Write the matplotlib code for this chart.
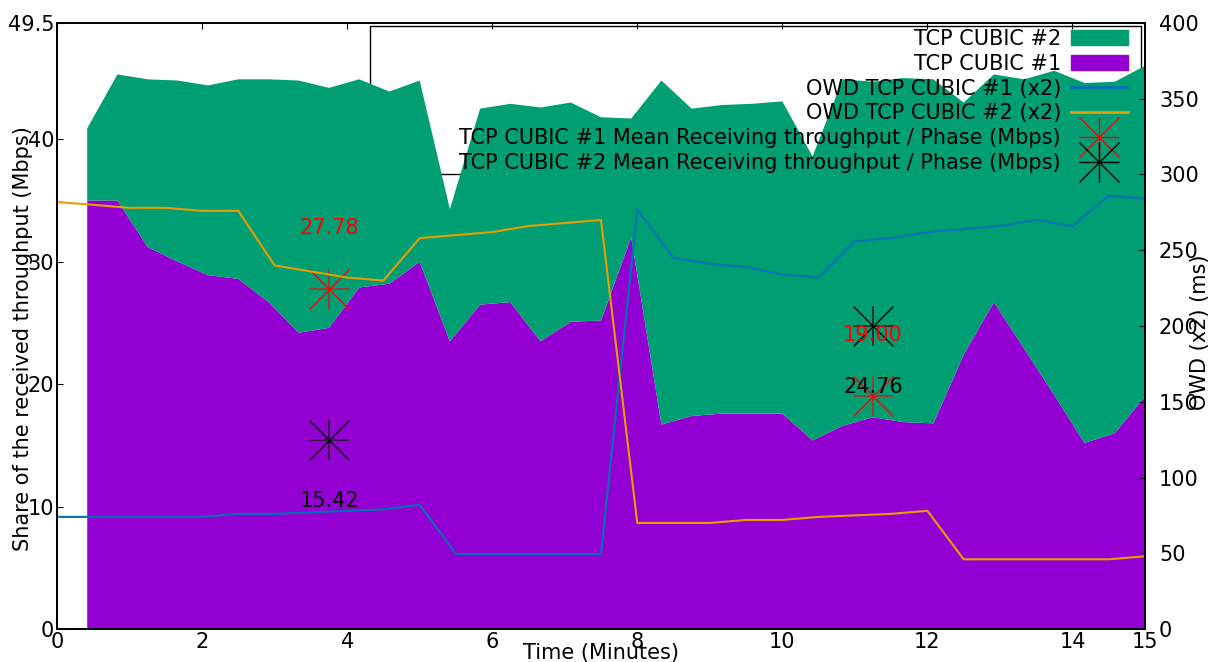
import numpy as np
import matplotlib
matplotlib.use("Agg")
import matplotlib.pyplot as plt
from matplotlib.lines import Line2D
from matplotlib.patches import Patch, Rectangle
from matplotlib.legend_handler import HandlerTuple

plt.rcParams["font.family"] = "DejaVu Sans"
plt.rcParams["font.size"] = 15

GREEN = "#009e73"
PURPLE = "#9400d3"
BLUE = "#0072b2"
ORANGE = "#e69f00"

# throughput, one sample every 25 s (minutes)
t_thr = np.arange(1, 37) * 25 / 60
cubic1 = [35.0, 35.0, 31.2, 30.0, 28.9, 28.6, 26.7, 24.2, 24.6, 27.9, 28.2, 30.0,
          23.5, 26.5, 26.7, 23.5, 25.1, 25.2, 32.0, 16.7, 17.4, 17.6, 17.6, 17.6,
          15.4, 16.6, 17.3, 16.9, 16.8, 22.4, 26.7, 22.9, 19.1, 15.2, 16.0, 19.0]
cubic2 = [5.9, 10.3, 13.7, 14.8, 15.5, 16.3, 18.2, 20.6, 19.6, 17.0, 15.7, 14.8,
          10.8, 16.0, 16.2, 19.1, 17.9, 16.6, 9.7, 28.1, 25.1, 25.2, 25.3, 25.5,
          23.2, 28.3, 27.4, 28.1, 28.1, 20.6, 18.6, 22.0, 26.5, 29.4, 28.7, 27.0]

# one way delay (x2), one sample every 30 s
t_owd = np.arange(0, 31) * 0.5
owd1 = [74, 74, 74, 74, 74, 76, 76, 77, 78, 79, 82, 49.5, 49.5, 49.5, 49.5, 49.5,
        277, 245, 241, 239, 234, 232, 256, 258, 262, 264, 266, 270, 266, 286, 284]
owd2 = [281.8, 280, 278, 278, 276, 276, 240, 236, 232, 230, 258, 260, 262, 266, 268, 270,
        70, 70, 70, 72, 72, 74, 75, 76, 78, 46, 46, 46, 46, 46, 48]

# mean receiving throughput per phase
t_phase = [3.75, 11.25]
mean1 = [27.78, 19.00]
mean2 = [15.42, 24.76]

fig = plt.figure(figsize=(12.11, 6.62), dpi=100)
ax = fig.add_axes([57 / 1211, 33 / 662, 1088 / 1211, 606 / 662])
ax2 = ax.twinx()

ax.stackplot(t_thr, cubic1, cubic2, colors=[PURPLE, GREEN], zorder=2)

# old key box, sits behind the data
ax.add_patch(Rectangle((0.2877, 0.751), 0.709, 0.244, transform=ax.transAxes,
                       fill=False, edgecolor="black", lw=1, zorder=1))

ms = 29
ax.plot(t_phase, mean1, ls="none", marker="+", ms=ms, mew=1.2, color="#b03020", zorder=5)
ax.plot(t_phase, mean1, ls="none", marker="x", ms=ms, mew=1.0, color="red", zorder=5)
ax.plot(t_phase, mean2, ls="none", marker="+", ms=ms, mew=1.2, color="#202020", zorder=5)
ax.plot(t_phase, mean2, ls="none", marker="x", ms=ms, mew=1.0, color="black", zorder=5)
for x, v in zip(t_phase, mean1):
    ax.text(x, v + 5, "%.2f" % v, color="red", ha="center", va="center", zorder=6)
for x, v in zip(t_phase, mean2):
    ax.text(x, v - 5, "%.2f" % v, color="black", ha="center", va="center", zorder=6)

ax2.plot(t_owd, owd1, color=BLUE, lw=1.5)
ax2.plot(t_owd, owd2, color=ORANGE, lw=1.5)

ax.set_xlim(0, 15)
ax.set_ylim(0, 49.5)
ax2.set_ylim(0, 400)
ax.set_xticks([0, 2, 4, 6, 8, 10, 12, 14, 15])
ax.set_yticks([0, 10, 20, 30, 40, 49.5])
ax.set_yticklabels(["0", "10", "20", "30", "40", "49.5"])
ax2.set_yticks(np.arange(0, 401, 50))

ax.tick_params(axis="x", direction="in", top=True, length=4, pad=2)
ax.tick_params(axis="y", direction="in", length=4, pad=2)
ax2.tick_params(axis="y", direction="in", length=4, pad=10)

for a in (ax, ax2):
    for s in a.spines.values():
        s.set_linewidth(1.3)
ax.spines["top"].set_color("#333333")

ax.set_xlabel("Time (Minutes)")
ax.xaxis.set_label_coords(0.5, -0.023)
ax.set_ylabel("Share of the received throughput (Mbps)")
ax.yaxis.set_label_coords(-0.022, 0.48)
ax2.set_ylabel("OWD (x2) (ms)")
ax2.yaxis.set_label_coords(1.041, 0.49)

red_h = (Line2D([], [], ls="none", marker="+", ms=ms, mew=1, color="red"),
         Line2D([], [], ls="none", marker="x", ms=ms, mew=1, color="red"))
blk_h = (Line2D([], [], ls="none", marker="+", ms=ms, mew=1, color="black"),
         Line2D([], [], ls="none", marker="x", ms=ms, mew=1, color="black"))
handles = [Patch(color=GREEN), Patch(color=PURPLE),
           Line2D([], [], color=BLUE, lw=2), Line2D([], [], color=ORANGE, lw=2),
           red_h, blk_h]
labels = ["TCP CUBIC #2", "TCP CUBIC #1", "OWD TCP CUBIC #1 (x2)", "OWD TCP CUBIC #2 (x2)",
          "TCP CUBIC #1 Mean Receiving throughput / Phase (Mbps)",
          "TCP CUBIC #2 Mean Receiving throughput / Phase (Mbps)"]
ax2.legend(handles, labels, loc="upper right", bbox_to_anchor=(0.984, 0.99),
           frameon=False, markerfirst=False, handlelength=2.7, handletextpad=0.5,
           labelspacing=0.23, borderpad=0, borderaxespad=0,
           handler_map={tuple: HandlerTuple(ndivide=1, pad=0)})

fig.savefig("out.png", dpi=100)
